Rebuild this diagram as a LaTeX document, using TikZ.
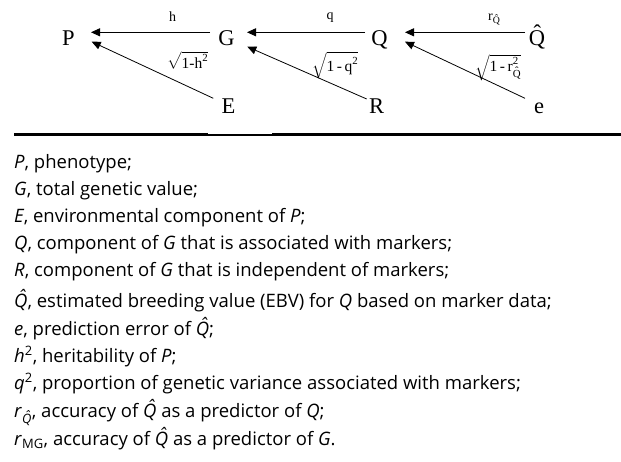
\documentclass[tikz,border=0pt]{standalone}
\usepackage{amsmath}
\usepackage{fontspec}
\setmainfont{Liberation Serif}
\newfontfamily\legfont{Open Sans}
\newcommand\legQ{{\itshape\^{Q}}}
\usetikzlibrary{arrows.meta,calc}
\tikzset{
  big/.style={inner sep=0pt,anchor=base,font=\fontsize{22.5}{22.5}\selectfont},
  small/.style={inner sep=0pt,font=\fontsize{14}{14}\selectfont},
  sq/.style={inner sep=0pt,anchor=base west,font=\fontsize{15.5}{15.5}\selectfont},
  arr/.style={line width=0.8pt,-{Triangle[length=9pt,width=8pt]}},
  leg/.style={inner sep=0pt,anchor=base west,font=\legfont\fontsize{18.5}{18.5}\selectfont},
}
\begin{document}
\begin{tikzpicture}[x=1pt,y=-1pt]
\useasboundingbox (0,0) rectangle (621,461);
% main nodes
\node[big] (P) at (68.5,45) {P};
\node[big] (G) at (226.5,45) {G};
\node[big] (Q) at (379.5,45) {Q};
\node[big] (Qh) at (537,45) {\^{Q}};
\node[big] (E) at (228.5,113) {E};
\node[big] (R) at (376.5,113) {R};
\node[big] (e) at (539,113) {e};
% connectors
\draw[arr] ($(G.base)+(-16.5,-12.7)$) -- ($(P.base)+(22.5,-12.7)$);
\draw[arr] ($(E.base)+(-15.2,-14.7)$) -- ($(P.base)+(23.2,-3.3)$);
\draw[arr] ($(Q.base)+(-14.5,-12.7)$) -- ($(G.base)+(20.5,-12.7)$);
\draw[arr] ($(R.base)+(-9.8,-14)$) -- ($(G.base)+(20.8,1.7)$);
\draw[arr] ($(Qh.base)+(-12,-12.7)$) -- ($(Q.base)+(25.5,-12.7)$);
\draw[arr] ($(e.base)+(-14,-14.7)$) -- ($(Q.base)+(25.5,-3.3)$);
% labels
\node[small,anchor=base] (lh) at (172.5,21.7) {h};
\node[small,anchor=base] (lq) at (330,19) {q};
\node[small,anchor=base west] (lr) at (488,20) {$\text{r}_{\text{\^{Q}}}$};
\node[sq] (sh) at (167,68) {$\sqrt{\text{1-h}^{\text{2}}}$};
\node[sq] (sq) at (312,71) {$\sqrt{\text{1\,-\,q}^{\text{2}}}$};
\node[sq] (sr) at (475,71) {$\sqrt{\text{1\,-\,r}^{\text{2}}_{\text{\^{Q}}}}$};
% separator
\draw[line width=3pt] (14,134.7) -- (208,134.7);
\draw[line width=3pt] (272,134.7) -- (621,134.7);
\draw[line width=2pt] (208,135.3) -- (272,135.3);
% legend
\node[leg] (l1) at (14,168) {\textit{P}, phenotype;};
\node[leg] (l2) at (14,195) {\textit{G}, total genetic value;};
\node[leg] (l3) at (14,222) {\textit{E}, environmental component of {\itshape P};};
\node[leg] (l4) at (14,249) {\textit{Q}, component of \textit{G} that is associated with markers;};
\node[leg] (l5) at (14,276) {\textit{R}, component of \textit{G} that is independent of markers;};
\node[leg] (l6) at (14,307) {\legQ, estimated breeding value (EBV) for \textit{Q} based on marker data;};
\node[leg] (l7) at (14,335) {\textit{e}, prediction error of \legQ;};
\node[leg] (l8) at (14,362) {\textit{h}\textsuperscript{2}, heritability of {\itshape P};};
\node[leg] (l9) at (14,389) {\textit{q}\textsuperscript{2}, proportion of genetic variance associated with markers;};
\node[leg] (l10) at (14,417) {\textit{r}\textsubscript{\legQ}, accuracy of \legQ{} as a predictor of {\itshape Q};};
\node[leg] (l11) at (14,445) {\textit{r}\textsubscript{MG}, accuracy of \legQ{} as a predictor of \textit{G}.};
\end{tikzpicture}
\end{document}
